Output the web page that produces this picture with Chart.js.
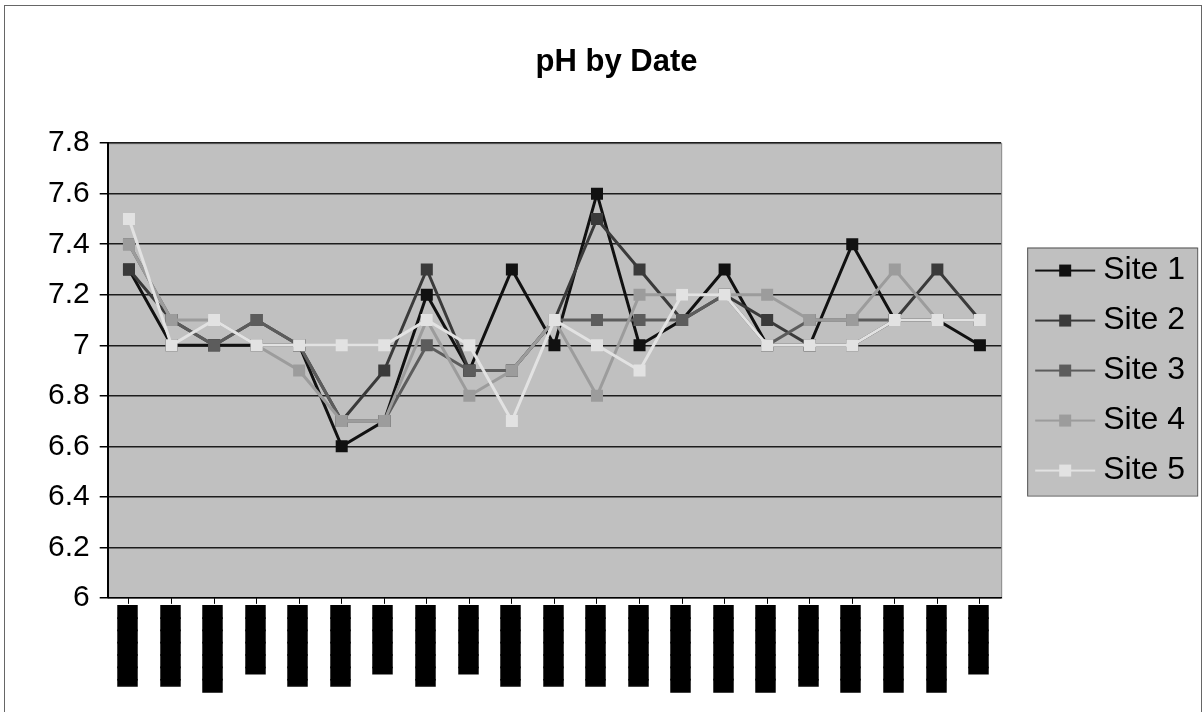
<!DOCTYPE html>
<html>
<head>
<meta charset="utf-8">
<title>pH by Date</title>
<script src="https://cdn.jsdelivr.net/npm/chart.js@4.4.0/dist/chart.umd.min.js"></script>
<style>
    html, body { margin: 0; padding: 0; background: #fff; }
    #canvas1 { display: block; }
</style>
</head>
<body>
<canvas id="canvas1" width="1203" height="712"></canvas>
<script>
// dates are blacked out in the original, so the labels are solid blocks
const NgayDo = [
    '▐██████', '▐██████', '███████', '▐█████', '▐██████', '▐██████', '▐█████',
    '▐██████', '▐█████', '▐██████', '▐██████', '▐██████', '▐██████', '███████',
    '███████', '███████', '▐██████', '███████', '███████', '███████', '▐█████'
];
const Site1 = [7.3, 7.0, 7.0, 7.0, 7.0, 6.6, 6.7, 7.2, 6.9, 7.3, 7.0, 7.6, 7.0, 7.1, 7.3, 7.0, 7.0, 7.4, 7.1, 7.1, 7.0];
const Site2 = [7.3, 7.1, 7.0, 7.1, 7.0, 6.7, 6.9, 7.3, 6.9, 6.9, 7.1, 7.5, 7.3, 7.1, 7.2, 7.1, 7.0, 7.0, 7.1, 7.3, 7.1];
const Site3 = [7.4, 7.1, 7.0, 7.1, 7.0, 6.7, 6.7, 7.0, 6.9, 6.9, 7.1, 7.1, 7.1, 7.1, 7.2, 7.0, 7.1, 7.1, 7.1, 7.1, 7.1];
const Site4 = [7.4, 7.1, 7.1, 7.0, 6.9, 6.7, 6.7, 7.1, 6.8, 6.9, 7.1, 6.8, 7.2, 7.2, 7.2, 7.2, 7.1, 7.1, 7.3, 7.1, 7.1];
const Site5 = [7.5, 7.0, 7.1, 7.0, 7.0, 7.0, 7.0, 7.1, 7.0, 6.7, 7.1, 7.0, 6.9, 7.2, 7.2, 7.0, 7.0, 7.0, 7.1, 7.1, 7.1];
const TenSite = ['Site 1', 'Site 2', 'Site 3', 'Site 4', 'Site 5'];
const MauSite = ['#111111', '#3a3a3a', '#5c5c5c', '#9c9c9c', '#e2e2e2'];

// "line with square" icons for the legend, like Excel
function IconLegend(color) {
    const c = document.createElement('canvas');
    c.width = 90;
    c.height = 16;
    const g = c.getContext('2d');
    g.strokeStyle = color;
    g.lineWidth = 2;
    g.beginPath();
    g.moveTo(27, 8);
    g.lineTo(87, 8);
    g.stroke();
    g.fillStyle = color;
    g.fillRect(51, 2, 12, 12);
    return c;
}

const nenBieuDo = {
    id: 'nenBieuDo',
    beforeDraw(chart) {
        const ctx = chart.ctx;
        const a = chart.chartArea;
        ctx.save();
        ctx.fillStyle = '#ffffff';
        ctx.fillRect(0, 0, chart.width, chart.height);
        ctx.strokeStyle = '#666';
        ctx.lineWidth = 1;
        ctx.strokeRect(4.5, 5.5, chart.width - 6, chart.height);
        ctx.fillStyle = '#c0c0c0';
        ctx.fillRect(a.left, a.top, a.right - a.left, a.bottom - a.top);
        ctx.strokeStyle = '#808080';
        ctx.strokeRect(a.left + 0.5, a.top + 0.5, a.right - a.left, a.bottom - a.top);

        const hb = chart.legend.legendHitBoxes;
        if (hb && hb.length) {
            const top = hb[0].top - 7;
            const bottom = hb[hb.length - 1].top + hb[hb.length - 1].height + 9;
            const left = hb[0].left + 8;
            ctx.fillStyle = '#c0c0c0';
            ctx.fillRect(left, top, 170, bottom - top);
            ctx.strokeStyle = '#555';
            ctx.strokeRect(left + 0.5, top + 0.5, 170, bottom - top);
        }
        ctx.restore();
    }
};

const DuLieu = [Site1, Site2, Site3, Site4, Site5];

const data = {
    labels: NgayDo,
    datasets: TenSite.map(function (ten, i) {
        return {
            label: ten,
            data: DuLieu[i],
            borderColor: MauSite[i],
            backgroundColor: MauSite[i],
            borderWidth: 3,
            pointStyle: 'rect',
            pointRadius: 8.5,
            pointBorderWidth: 0,
            tension: 0,
            order: 4 - i
        };
    })
};

const config = {
    type: 'line',
    data: data,
    options: {
        responsive: false,
        animation: false,
        layout: {
            padding: { left: 38, right: 8, top: 0, bottom: 18 }
        },
        scales: {
            x: {
                offset: true,
                grid: {
                    display: true,
                    drawOnChartArea: false,
                    tickLength: 6,
                    color: '#000'
                },
                border: { color: '#000', width: 1 },
                ticks: {
                    autoSkip: false,
                    minRotation: 90,
                    maxRotation: 90,
                    padding: 2,
                    color: '#000',
                    textStrokeColor: '#000',
                    textStrokeWidth: 1.5,
                    font: { family: 'DejaVu Sans', size: 16, lineHeight: 1 }
                }
            },
            y: {
                min: 6,
                max: 7.8,
                ticks: {
                    stepSize: 0.2,
                    padding: 10,
                    color: '#000',
                    font: { family: 'Liberation Sans', size: 30 },
                    callback: function (value) {
                        return String(parseFloat(value.toFixed(1)));
                    }
                },
                grid: {
                    color: '#1c1c1c',
                    lineWidth: 1.5,
                    tickLength: 8,
                    tickColor: '#000'
                },
                border: { color: '#000', width: 2 }
            }
        },
        plugins: {
            title: {
                display: true,
                text: 'pH by Date',
                color: '#000',
                font: { family: 'Liberation Sans', size: 31, weight: 'bold' },
                padding: { top: 44, bottom: 62 }
            },
            legend: {
                position: 'right',
                fullSize: false,
                labels: {
                    usePointStyle: true,
                    pointStyleWidth: 68,
                    padding: 18,
                    color: '#000',
                    font: { family: 'Liberation Sans', size: 32 },
                    generateLabels: function (chart) {
                        return chart.data.datasets.map(function (ds, i) {
                            return {
                                text: ds.label,
                                pointStyle: IconLegend(MauSite[i]),
                                datasetIndex: i,
                                fontColor: '#000',
                                fillStyle: MauSite[i],
                                strokeStyle: MauSite[i],
                                lineWidth: 0,
                                hidden: false
                            };
                        });
                    }
                }
            },
            tooltip: { enabled: false }
        }
    },
    plugins: [nenBieuDo]
};

var canvas = document.getElementById('canvas1');
const chart = new Chart(canvas, config);
</script>
</body>
</html>
